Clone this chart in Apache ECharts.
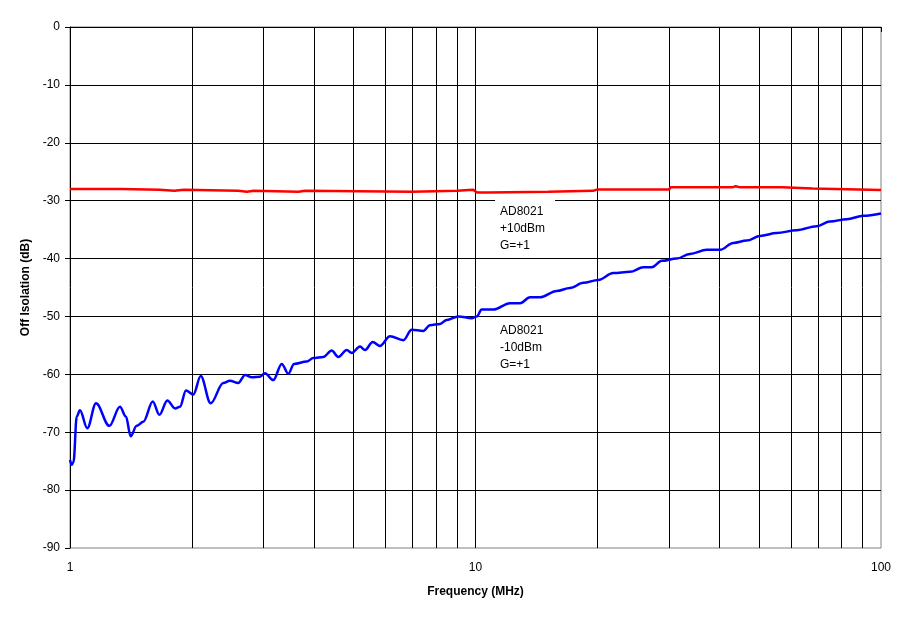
<!DOCTYPE html>
<html>
<head>
<meta charset="utf-8">
<script src="https://cdn.jsdelivr.net/npm/echarts@6.0.0/dist/echarts.min.js"></script>
<style>
html, body { margin: 0; padding: 0; background: #fff; }
#chart { width: 909px; height: 619px; }
</style>
</head>
<body>
<div id="chart"></div>
<script>
// -10dBm input sweep (blue)
const blueFreq = [1.0, 1.01, 1.02, 1.039, 1.058, 1.103, 1.159, 1.25, 1.328, 1.374,
  1.411, 1.46, 1.516, 1.6, 1.661, 1.738, 1.816, 1.867, 1.932, 2.014,
  2.101, 2.223, 2.388, 2.48, 2.6, 2.702, 2.806, 2.942, 3.026, 3.172,
  3.328, 3.455, 3.568, 3.835, 3.981, 4.214, 4.42, 4.588, 4.814, 4.952,
  5.19, 5.34, 5.579, 5.815, 6.153, 6.637, 6.961, 7.435, 7.723, 8.176,
  8.492, 9.071, 9.786, 10.07, 10.36, 11.07, 12.16, 12.88, 13.63, 14.42,
  15.86, 17.1, 18.45, 20.08, 21.87, 24.04, 25.94, 27.2, 28.79, 31.35,
  33.81, 37.17, 40.09, 43.23, 46.66, 50.3, 55.33, 61.96, 69.41, 74.85,
  82.31, 90.44, 100];
const blueDb = [-74.8, -75.6, -75.2, -67.3, -66.2, -69.3, -65.0, -68.9, -65.6, -67.3,
  -70.7, -68.9, -68.2, -64.7, -67.0, -64.5, -65.9, -65.6, -62.8, -63.5,
  -60.3, -65.0, -61.5, -61.1, -61.5, -60.1, -60.5, -60.4, -59.8, -61.0,
  -58.2, -59.9, -58.2, -57.8, -57.2, -57.0, -55.9, -57.0, -55.8, -56.3,
  -55.2, -55.8, -54.4, -55.1, -53.4, -54.1, -52.3, -52.5, -51.5, -51.3,
  -50.6, -50.0, -50.3, -50.0, -48.8, -48.8, -47.7, -47.7, -46.7, -46.7,
  -45.6, -45.1, -44.2, -43.7, -42.5, -42.3, -41.5, -41.5, -40.4, -40.0,
  -39.2, -38.5, -38.5, -37.3, -36.9, -36.1, -35.6, -35.1, -34.4, -33.6,
  -33.2, -32.6, -32.2];

// +10dBm input sweep (red)
const redFreq = [1, 1.34, 1.35, 1.66, 1.67, 1.81, 1.82, 1.91, 1.92, 2.6,
  2.62, 2.73, 2.75, 2.84, 2.86, 3.66, 3.68, 3.8, 3.83, 6.97,
  7.0, 9.0, 9.05, 9.85, 10.1, 10.75, 10.8, 15.1, 15.2, 19.5,
  19.7, 20.0, 30, 30.3, 43, 43.8, 45, 57, 57.5, 67.8,
  68.3, 100];
const redDb = [-28.0, -28.0, -28.1, -28.1, -28.3, -28.3, -28.1, -28.1, -28.3, -28.3,
  -28.45, -28.45, -28.3, -28.3, -28.45, -28.45, -28.3, -28.3, -28.45, -28.45,
  -28.3, -28.3, -28.1, -28.1, -28.6, -28.6, -28.45, -28.45, -28.3, -28.3,
  -28.0, -28.05, -28.05, -27.7, -27.7, -27.5, -27.7, -27.7, -27.9, -27.9,
  -28.15, -28.15];

// minor vertical gridlines of the log axis
const minorGridFreq = [2, 3, 4, 5, 6, 7, 8, 9, 20, 30, 40, 50, 60, 70, 80, 90];

const labelTop = 'AD8021\n+10dBm\nG=+1';
const labelBottom = 'AD8021\n-10dBm\nG=+1';

const font = 'Liberation Sans, Arial, sans-serif';

const chart = echarts.init(document.getElementById('chart'));
const option = {
  animation: false,
  backgroundColor: '#fff',
  textStyle: { fontFamily: font },
  grid: {
    left: 70, right: 28, top: 27, bottom: 71, z: 0,
    show: true, borderColor: '#808080', borderWidth: 1
  },
  xAxis: {
    type: 'log', logBase: 10, min: 1, max: 100, z: 4,
    name: 'Frequency (MHz)', nameLocation: 'middle', nameGap: 38,
    nameTextStyle: { fontSize: 12, fontWeight: 'bold', color: '#000', fontFamily: font },
    axisLine: { lineStyle: { color: '#000', width: 1 } },
    axisTick: { show: true, length: 5, lineStyle: { color: '#000' } },
    axisLabel: { color: '#000', fontSize: 12, margin: 14, fontFamily: font },
    splitLine: { show: true, showMinLine: false, showMaxLine: false, lineStyle: { color: '#000', width: 1 } },
    minorTick: { show: false },
    minorSplitLine: { show: false }
  },
  yAxis: {
    type: 'value', min: -90, max: 0, interval: 10, z: 4,
    name: 'Off Isolation (dB)', nameLocation: 'middle', nameGap: 34,
    nameTextStyle: { fontSize: 12, fontWeight: 'bold', color: '#000', fontFamily: font },
    axisLine: { show: true, lineStyle: { color: '#000', width: 1 } },
    axisTick: { show: true, length: 5, lineStyle: { color: '#000' } },
    axisLabel: { color: '#000', fontSize: 12, margin: 10, fontFamily: font },
    splitLine: { show: true, showMinLine: false, showMaxLine: false, lineStyle: { color: '#000', width: 1 } }
  },
  series: [
    {
      type: 'line',
      data: [],
      silent: true,
      z: 1,
      markLine: {
        z: 1,
        silent: true,
        symbol: ['none', 'none'],
        label: { show: false },
        lineStyle: { color: '#000', width: 1, type: 'solid' },
        data: minorGridFreq.map(f => ({ xAxis: f }))
      }
    },
    {
      type: 'line',
      name: '+10dBm',
      data: redFreq.map((f, i) => [f, redDb[i]]),
      showSymbol: false,
      lineStyle: { color: '#ff0000', width: 2.5 },
      z: 5
    },
    {
      type: 'line',
      name: '-10dBm',
      data: blueFreq.map((f, i) => [f, blueDb[i]]),
      showSymbol: false,
      smooth: 0.35,
      smoothMonotone: 'x',
      lineStyle: { color: '#0000ff', width: 2.5 },
      z: 5
    }
  ],
  graphic: [
    {
      type: 'text', left: 495, top: 200, z: 10,
      style: {
        text: labelTop, fill: '#000', font: '12px ' + font, lineHeight: 17,
        backgroundColor: '#fff', padding: [3, 10, 3, 5]
      }
    },
    {
      type: 'text', left: 500, top: 322, z: 10,
      style: {
        text: labelBottom, fill: '#000', font: '12px ' + font, lineHeight: 17
      }
    }
  ]
};
chart.setOption(option);
window.onresize = () => chart.resize();
</script>
</body>
</html>
